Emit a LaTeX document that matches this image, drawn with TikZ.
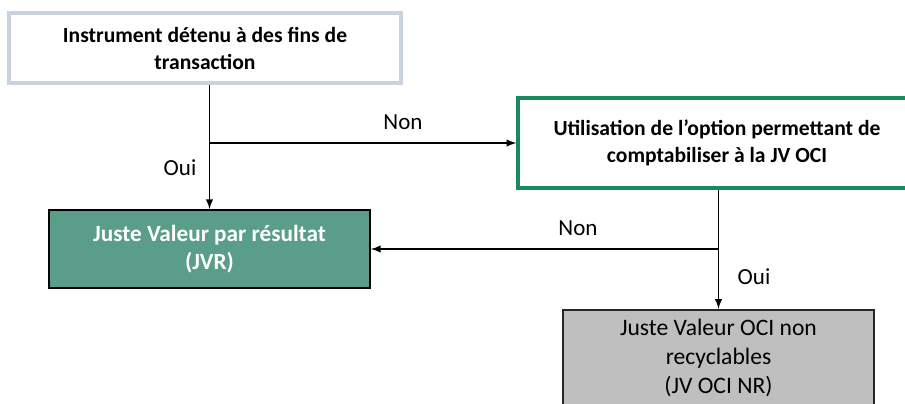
\documentclass[tikz,border=0pt]{standalone}
\usepackage{fontspec}
\setmainfont{Carlito}
\usetikzlibrary{positioning}
\definecolor{optgreen}{HTML}{178A5E}
\definecolor{jvrfill}{HTML}{5A9E8A}
\definecolor{tradeline}{HTML}{C8D3DE}
\definecolor{nrfill}{HTML}{BFBFBF}
\tikzset{
	>=latex,
}
\begin{document}
\begin{tikzpicture}[
		x=0.5pt,y=-0.5pt,
		box/.style 2 args={
			rectangle, align=center, inner sep=0pt,
			minimum width=#1, minimum height=#2,
		},
		question/.style={
			draw=#1, line width=1.6pt, fill=white,
			font=\fontsize{10.8}{13.5}\selectfont\bfseries,
		},
		lbl/.style={font=\fontsize{11.5}{14}\selectfont},
		flow/.style={->,line width=0.7pt},
	]
	\useasboundingbox (0,0) rectangle (905,403);
	\clip (0,0) rectangle (905,403);
		\draw
			node(trade)[box={196pt}{35pt},question=tradeline] at (205,48) {%
				Instrument détenu à des fins de\\transaction}
			node(option)[box={199pt}{45pt},question=optgreen] at (717,143) {%
				Utilisation de l’option permettant de\\comptabiliser à la JV OCI}
			node(jvr)[box={160.5pt}{39pt},draw=black,line width=0.9pt,fill=jvrfill,
				text=white,font=\fontsize{11.6}{14}\selectfont\bfseries] at (209.5,249) {%
				Juste Valeur par résultat\\(JVR)}
			node(ocinr)[box={155.5pt}{48pt},draw=black!85,line width=1.2pt,fill=nrfill,
				font=\fontsize{11.8}{14.4}\selectfont] at (718.5,358) {%
				Juste Valeur OCI non\\recyclables\\(JV OCI NR)}
		;
		\draw[flow] (jvr.north |- trade.south) to (jvr.north);
		\draw[flow] (jvr.north |- option.west) to (option.west);
		\draw[flow] (option.south -| ocinr.north) to (ocinr.north);
		\draw[flow] (ocinr.north |- jvr.east) to (jvr.east);
		\node(non1)[lbl] at (403,122) {Non};
		\node(oui1)[lbl] at (180,168) {Oui};
		\node(non2)[lbl] at (578,228) {Non};
		\node(oui2)[lbl] at (754,277) {Oui};
	\end{tikzpicture}
\end{document}
